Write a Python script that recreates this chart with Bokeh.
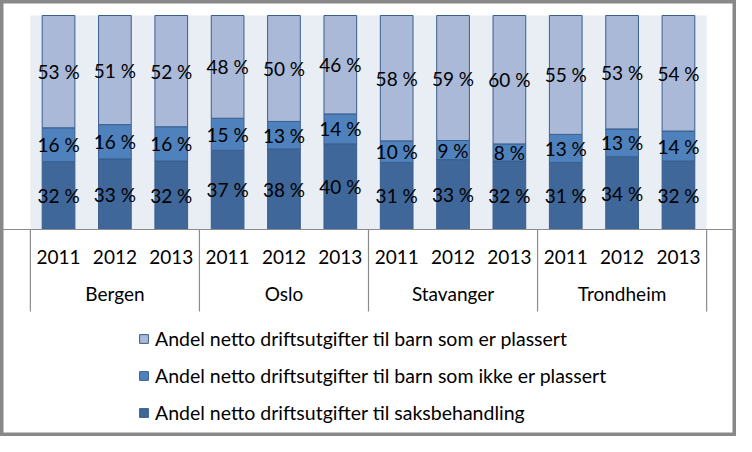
from bokeh.plotting import figure
from bokeh.models import ColumnDataSource, FactorRange, Range1d, BoxAnnotation, Legend, LegendItem
from bokeh.embed import file_html
from bokeh.resources import INLINE
from bokeh.core.properties import value

cities = ["Bergen", "Oslo", "Stavanger", "Trondheim"]
years = ["2011", "2012", "2013"]
saksbehandling = [32, 33, 32, 37, 38, 40, 31, 33, 32, 31, 34, 32]
ikke_plassert = [16, 16, 16, 15, 13, 14, 10, 9, 8, 13, 13, 14]
plassert = [53, 51, 52, 48, 50, 46, 58, 59, 60, 55, 53, 54]
series_names = [
    "Andel netto driftsutgifter til barn som er plassert",
    "Andel netto driftsutgifter til barn som ikke er plassert",
    "Andel netto driftsutgifter til saksbehandling",
]

FONT = "Lato"
TXT = "#000000"
C_DARK = "#3F679A"
C_MID = "#4F81BD"
C_LIGHT = "#AAB9D7"
C_EDGE = "#3A5F8E"

factors = [(c, y) for c in cities for y in years]
tot = [a + b + c for a, b, c in zip(saksbehandling, ikke_plassert, plassert)]
f_s = [a / t for a, t in zip(saksbehandling, tot)]
f_i = [a / t for a, t in zip(ikke_plassert, tot)]
f_p = [a / t for a, t in zip(plassert, tot)]

src = ColumnDataSource(dict(
    x=factors, s=f_s, i=f_i, p=f_p,
    ys=[a / 2 for a in f_s],
    yi=[a + b / 2 for a, b in zip(f_s, f_i)],
    yp=[a + b + c / 2 for a, b, c in zip(f_s, f_i, f_p)],
    ts=[f"{v} %" for v in saksbehandling],
    ti=[f"{v} %" for v in ikke_plassert],
    tp=[f"{v} %" for v in plassert],
))

W, H = 736, 436
xr = FactorRange(*factors, factor_padding=0, group_padding=0,
                 range_padding=0.53, range_padding_units="absolute")
yr = Range1d(-0.9673, 1.0701)

p = figure(x_range=xr, y_range=yr, width=W, height=H, output_backend="svg",
           toolbar_location=None, min_border=0, min_border_left=0,
           min_border_right=0, min_border_top=0, min_border_bottom=0)
p.xgrid.visible = False
p.ygrid.visible = False
p.yaxis.visible = False
p.background_fill_color = "white"
p.border_fill_color = "white"
p.outline_line_color = "#888888"
p.outline_line_width = 6

p.add_layout(BoxAnnotation(bottom=0, top=1, left=0, right=len(factors),
                           fill_color="#E9EDF4", fill_alpha=1, line_color=None,
                           level="underlay"))

rs = p.vbar_stack(["s", "i", "p"], x="x", width=0.58, source=src,
                  color=[C_DARK, C_MID, C_LIGHT], line_color=C_EDGE, line_width=1)

for ycol, tcol in (("ys", "ts"), ("yi", "ti"), ("yp", "tp")):
    p.text(x="x", y=ycol, text=tcol, source=src, text_align="center",
           text_baseline="middle", text_font=value(FONT), text_font_size="19px",
           text_color=TXT)

# group separators below the axis
n = len(years)
sep_x = [k * n for k in range(len(cities) + 1)]
p.segment(x0=sep_x, y0=[0] * len(sep_x), x1=sep_x, y1=[-0.383] * len(sep_x),
          line_color="#8C8C8C", line_width=1.2)

ax = p.xaxis[0]
ax.fixed_location = 0
ax.axis_line_color = "#8C8C8C"
ax.axis_line_width = 1.2
ax.major_tick_line_color = None
ax.minor_tick_line_color = None
ax.major_label_text_font = FONT
ax.major_label_text_font_size = "19px"
ax.major_label_text_color = TXT
ax.major_label_standoff = 15
ax.group_text_font = FONT
ax.group_text_font_size = "19px"
ax.group_text_color = TXT
ax.group_text_font_style = "normal"
ax.separator_line_color = None

legend = Legend(items=[LegendItem(label=series_names[0], renderers=[rs[2]]),
                       LegendItem(label=series_names[1], renderers=[rs[1]]),
                       LegendItem(label=series_names[2], renderers=[rs[0]])],
                location=(138, 12), orientation="vertical", padding=0, margin=0,
                spacing=13, label_height=24, glyph_height=11, glyph_width=11,
                label_standoff=6, border_line_color=None, background_fill_alpha=0,
                label_text_font=FONT, label_text_font_size="19.5px",
                label_text_color=TXT)
p.add_layout(legend)

open("out.html", "w").write(file_html(p, INLINE))
